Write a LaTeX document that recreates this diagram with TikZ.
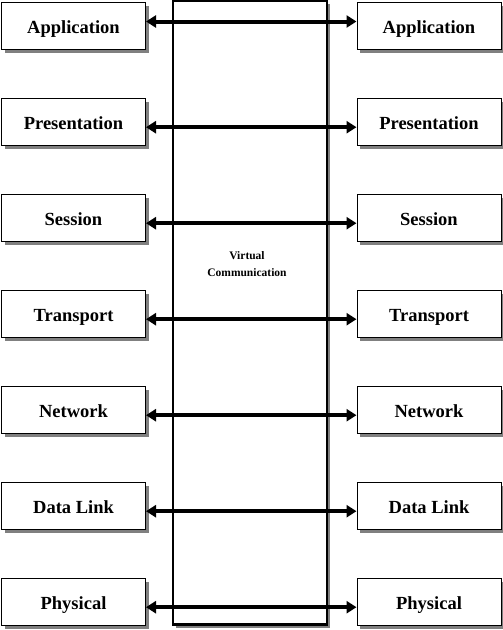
\documentclass[tikz,border=0pt]{standalone}
\usepackage{fontspec}
\setmainfont{Liberation Serif}
\usetikzlibrary{arrows.meta,shadows}

\begin{document}
\begin{tikzpicture}[x=1pt, y=-1pt, >={Triangle[length=10pt,width=12pt]},
    shade3/.style={drop shadow={shadow xshift=3pt, shadow yshift=-3pt, fill=black!50, opacity=1}},
    layer/.style={draw, fill=white, line width=1pt, minimum width=144pt, minimum height=47pt,
        anchor=north west, inner sep=0pt, text height=15.6pt, text depth=0pt, shade3,
        font=\fontsize{18.5}{20}\selectfont\bfseries},
    channel/.style={draw, fill=white, line width=2.5pt, minimum width=154pt, minimum height=623.7pt, inner sep=0pt, shade3},
    link/.style={<->, line width=4pt}]
    \useasboundingbox (0,0) rectangle (503,630);

    % virtual channel in the middle
    \node[channel] (vc) at (250,312.85) {};
    \node[font=\fontsize{11.5}{17}\selectfont\bfseries, align=center] (vclabel) at (247,264) {Virtual\\Communication};

    % the two stacks
    \foreach \name [count=\i from 0] in {Application,Presentation,Session,Transport,Network,Data Link,Physical} {
        \node[layer] (l\i) at (1,{2+96*\i}) {\name};
        \node[layer] (r\i) at (356.5,{2+96*\i}) {\name};
    }

    \draw[link] ([yshift=4.5pt]l0.east) -- ([yshift=4.5pt]r0.west);
    \foreach \i in {1,...,6}
        \draw[link] ([yshift=-5.2pt]l\i.east) -- ([yshift=-5.2pt]r\i.west);
\end{tikzpicture}
\end{document}
